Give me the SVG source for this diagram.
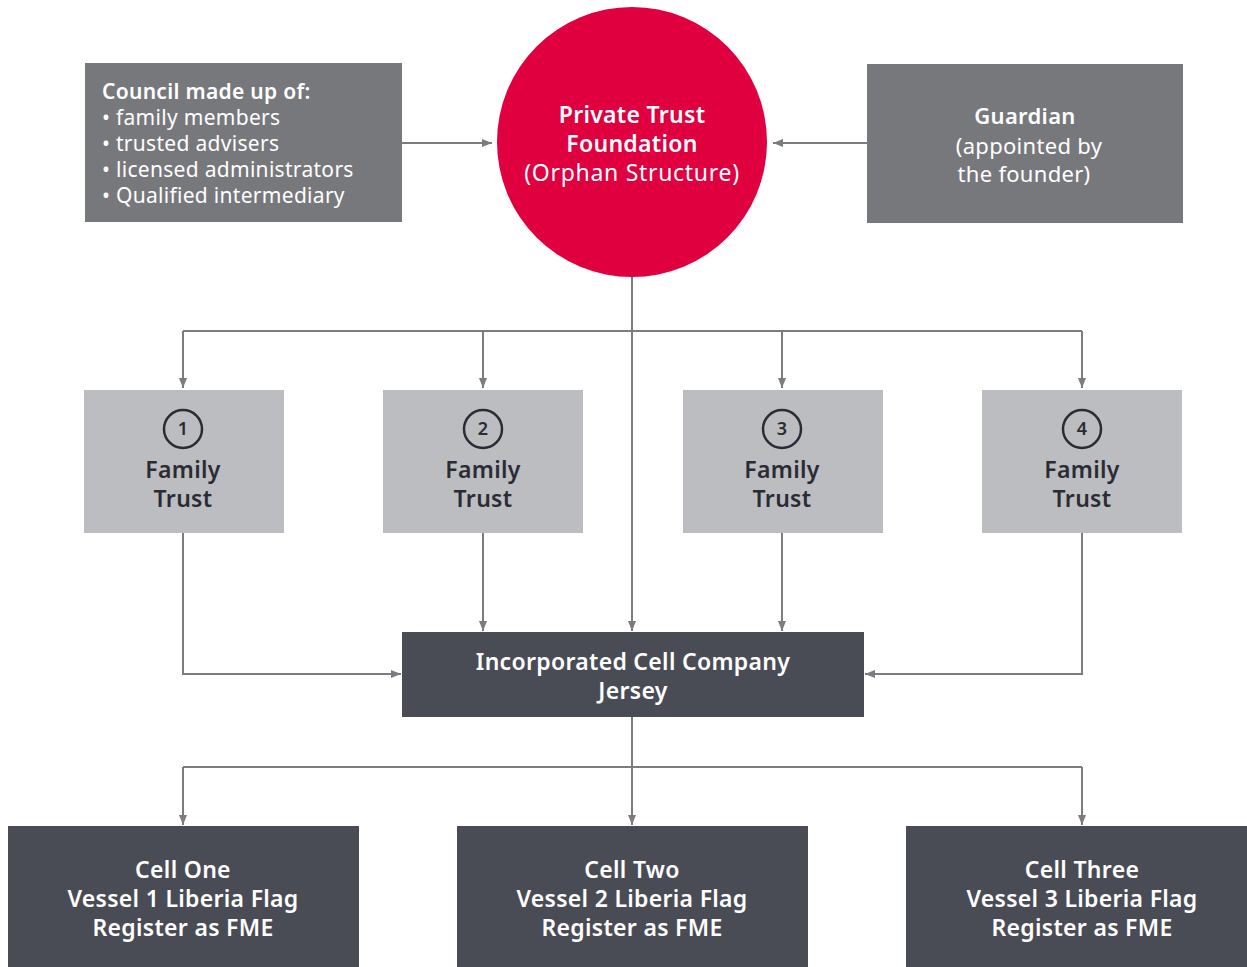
<svg xmlns="http://www.w3.org/2000/svg" width="1247" height="967" viewBox="0 0 1247 967">
<style>
text{font-family:"Noto Sans","Open Sans","Liberation Sans",sans-serif;letter-spacing:0.3px;}
.w{fill:#ffffff;}
.d{fill:#2b2c33;}
.b{font-weight:600;}
.line{fill:none;stroke:#7b7c80;stroke-width:2;}
.mid{fill:#77787c;}
.lt{fill:#bcbdc1;}
.dk{fill:#4a4c55;}
</style>
<defs>
<marker id="ah" viewBox="0 0 10 10" refX="10" refY="5" markerWidth="10" markerHeight="10" markerUnits="userSpaceOnUse" orient="auto">
<path d="M0,1 L10,5 L0,9 Z" fill="#7b7c80"/>
</marker>
</defs>
<rect width="1247" height="967" fill="#ffffff"/>
<g id="connectors">
<path class="line" d="M402,143 H492" marker-end="url(#ah)"/>
<path class="line" d="M867,143 H773" marker-end="url(#ah)"/>
<path class="line" d="M632,277 V631" marker-end="url(#ah)"/>
<path class="line" d="M183,331 H1082"/>
<path class="line" d="M183,331 V388" marker-end="url(#ah)"/>
<path class="line" d="M483,331 V388" marker-end="url(#ah)"/>
<path class="line" d="M782,331 V388" marker-end="url(#ah)"/>
<path class="line" d="M1082,331 V388" marker-end="url(#ah)"/>
<path class="line" d="M183,533 V674 H401" marker-end="url(#ah)"/>
<path class="line" d="M483,533 V631" marker-end="url(#ah)"/>
<path class="line" d="M782,533 V631" marker-end="url(#ah)"/>
<path class="line" d="M1082,533 V674 H865" marker-end="url(#ah)"/>
<path class="line" d="M632,717 V825" marker-end="url(#ah)"/>
<path class="line" d="M183,767 H1082"/>
<path class="line" d="M183,767 V825" marker-end="url(#ah)"/>
<path class="line" d="M1082,767 V825" marker-end="url(#ah)"/>
</g>
<g id="council">
<rect class="mid" x="85" y="63" width="317" height="159"/>
<text class="w" font-size="21" letter-spacing="0.9" x="102" y="99"><tspan class="b">Council made up of:</tspan><tspan x="102" dy="26">• family members</tspan><tspan x="102" dy="26">• trusted advisers</tspan><tspan x="102" dy="26">• licensed administrators</tspan><tspan x="102" dy="26">• Qualified intermediary</tspan></text>
</g>
<g id="foundation">
<circle cx="632" cy="142" r="135" fill="#e0003f"/>
<text class="w" font-size="23" text-anchor="middle"><tspan class="b" x="632" y="123">Private Trust</tspan><tspan class="b" x="632" y="152">Foundation</tspan><tspan x="632" y="181" letter-spacing="0.7">(Orphan Structure)</tspan></text>
</g>
<g id="guardian">
<rect class="mid" x="867" y="64" width="316" height="159"/>
<text class="w" font-size="22" letter-spacing="0.7" text-anchor="middle"><tspan class="b" x="1025" y="124">Guardian</tspan><tspan x="1029" y="154">(appointed by</tspan><tspan x="1024" y="182">the founder)</tspan></text>
</g>
<g id="trust1">
<rect class="lt" x="84" y="390" width="200" height="143"/>
<circle cx="183" cy="429" r="19" fill="none" stroke="#2b2c33" stroke-width="2.5"/>
<text class="d b" font-size="18" text-anchor="middle" x="183" y="435">1</text>
<text class="d b" font-size="23" letter-spacing="0.7" text-anchor="middle"><tspan x="183" y="478">Family</tspan><tspan x="183" y="507">Trust</tspan></text>
</g>
<g id="trust2">
<rect class="lt" x="383" y="390" width="200" height="143"/>
<circle cx="483" cy="429" r="19" fill="none" stroke="#2b2c33" stroke-width="2.5"/>
<text class="d b" font-size="18" text-anchor="middle" x="483" y="435">2</text>
<text class="d b" font-size="23" letter-spacing="0.7" text-anchor="middle"><tspan x="483" y="478">Family</tspan><tspan x="483" y="507">Trust</tspan></text>
</g>
<g id="trust3">
<rect class="lt" x="683" y="390" width="200" height="143"/>
<circle cx="782" cy="429" r="19" fill="none" stroke="#2b2c33" stroke-width="2.5"/>
<text class="d b" font-size="18" text-anchor="middle" x="782" y="435">3</text>
<text class="d b" font-size="23" letter-spacing="0.7" text-anchor="middle"><tspan x="782" y="478">Family</tspan><tspan x="782" y="507">Trust</tspan></text>
</g>
<g id="trust4">
<rect class="lt" x="982" y="390" width="200" height="143"/>
<circle cx="1082" cy="429" r="19" fill="none" stroke="#2b2c33" stroke-width="2.5"/>
<text class="d b" font-size="18" text-anchor="middle" x="1082" y="435">4</text>
<text class="d b" font-size="23" letter-spacing="0.7" text-anchor="middle"><tspan x="1082" y="478">Family</tspan><tspan x="1082" y="507">Trust</tspan></text>
</g>
<g id="icc">
<rect class="dk" x="402" y="632" width="462" height="85"/>
<text class="w b" font-size="23" letter-spacing="1" text-anchor="middle"><tspan x="633" y="670">Incorporated Cell Company</tspan><tspan x="633" y="699">Jersey</tspan></text>
</g>
<g id="cell1">
<rect class="dk" x="8" y="826" width="351" height="141"/>
<text class="w b" font-size="23" text-anchor="middle"><tspan x="183" y="878">Cell One</tspan><tspan x="183" y="907">Vessel 1 Liberia Flag</tspan><tspan x="183" y="936">Register as FME</tspan></text>
</g>
<g id="cell2">
<rect class="dk" x="457" y="826" width="351" height="141"/>
<text class="w b" font-size="23" text-anchor="middle"><tspan x="632" y="878">Cell Two</tspan><tspan x="632" y="907">Vessel 2 Liberia Flag</tspan><tspan x="632" y="936">Register as FME</tspan></text>
</g>
<g id="cell3">
<rect class="dk" x="906" y="826" width="341" height="141"/>
<text class="w b" font-size="23" text-anchor="middle"><tspan x="1082" y="878">Cell Three</tspan><tspan x="1082" y="907">Vessel 3 Liberia Flag</tspan><tspan x="1082" y="936">Register as FME</tspan></text>
</g>
</svg>
